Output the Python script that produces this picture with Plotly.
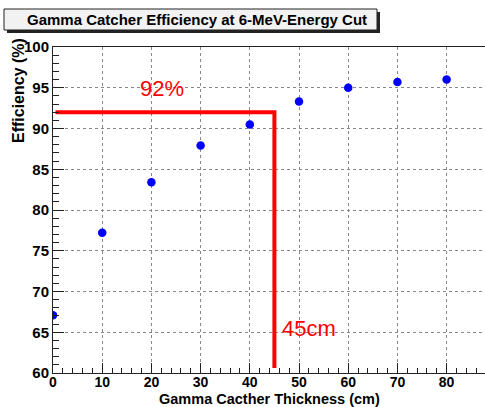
import plotly.graph_objects as go

thickness = [0, 10, 20, 30, 40, 50, 60, 70, 80]
efficiency = [67.1, 77.2, 83.4, 87.9, 90.5, 93.3, 95.0, 95.7, 96.0]

cut_eff = 92
cut_thick = 45
x_start = 0.5
y_bottom = 60.6

title_text = "Gamma Catcher Efficiency at 6-MeV-Energy Cut"
x_title = "Gamma Cacther Thickness (cm)"
y_title = "Efficiency (%)"

W, H = 485, 407
L, R, T, B = 53, 0, 47, 34
PW, PH = W - L - R, H - T - B

fig = go.Figure()
fig.add_trace(go.Scatter(
    x=thickness, y=efficiency, mode="markers",
    marker=dict(color="#0000ff", size=8.5, line=dict(width=0)),
    showlegend=False,
))
fig.add_trace(go.Scatter(
    x=[x_start, cut_thick, cut_thick], y=[cut_eff, cut_eff, y_bottom],
    mode="lines", line=dict(color="#ff0000", width=4),
    showlegend=False,
))

font_main = "Liberation Sans, Arial, Helvetica, sans-serif"

fig.update_layout(
    width=W, height=H,
    margin=dict(l=L, r=R, t=T, b=B),
    paper_bgcolor="white", plot_bgcolor="white",
    font=dict(family=font_main, size=15, color="black", weight="bold"),
    xaxis=dict(
        range=[0, 87.8], dtick=10, tick0=0,
        ticks="inside", ticklen=10, tickwidth=1, tickcolor="#222",
        minor=dict(ticks="inside", dtick=2, ticklen=5, tickcolor="#222", showgrid=False),
        showgrid=True, gridcolor="#888", griddash="dot", gridwidth=1,
        showline=True, linecolor="#222", linewidth=1, mirror=True,
        zeroline=False,
        tickfont=dict(size=14, family=font_main, weight="bold"),
        ticklabelstandoff=-4,
    ),
    yaxis=dict(
        range=[60, 100], dtick=5, tick0=60,
        ticks="inside", ticklen=11, tickwidth=1, tickcolor="#222",
        minor=dict(ticks="inside", dtick=1, ticklen=6, tickcolor="#222", showgrid=False),
        showgrid=True, gridcolor="#888", griddash="dot", gridwidth=1,
        showline=True, linecolor="#222", linewidth=1, mirror=False,
        zeroline=False,
        tickfont=dict(size=15, family=font_main, weight="bold"),
        ticklabelstandoff=0,
    ),
)

def px_x(p):
    return (p - L) / PW

def px_y(p):
    return (H - B - p) / PH

# title box with shadow
fig.add_shape(type="rect", xref="paper", yref="paper",
              x0=px_x(7), x1=px_x(380), y0=px_y(33), y1=px_y(12),
              fillcolor="#222", line=dict(width=0), layer="above")
fig.add_shape(type="rect", xref="paper", yref="paper",
              x0=px_x(4), x1=px_x(377), y0=px_y(30), y1=px_y(9),
              fillcolor="#f2f2f2", line=dict(color="#222", width=1), layer="above")

fig.add_annotation(text=title_text, xref="paper", yref="paper",
                   x=px_x(25), y=px_y(19.5),
                   xanchor="left", yanchor="middle", showarrow=False,
                   font=dict(size=15, family=font_main, weight="bold", color="black"))

fig.add_annotation(text=x_title, xref="paper", yref="paper",
                   x=0.5, y=px_y(399), xanchor="center", yanchor="middle",
                   showarrow=False,
                   font=dict(size=14.5, family=font_main, weight="bold", color="black"))
fig.add_annotation(text=y_title, xref="paper", yref="paper",
                   x=px_x(18), y=px_y(91),
                   xanchor="center", yanchor="middle", textangle=-90,
                   showarrow=False,
                   font=dict(size=16, family=font_main, weight="bold", color="black"))

fig.add_annotation(text="92%", x=22.2, y=94.85, showarrow=False,
                   xanchor="center", yanchor="middle",
                   font=dict(size=22, family=font_main, weight="normal", color="#ff0000"))
fig.add_annotation(text="45cm", x=52.0, y=65.4, showarrow=False,
                   xanchor="center", yanchor="middle",
                   font=dict(size=22, family=font_main, weight="normal", color="#ff0000"))

fig.write_html("out.html")
